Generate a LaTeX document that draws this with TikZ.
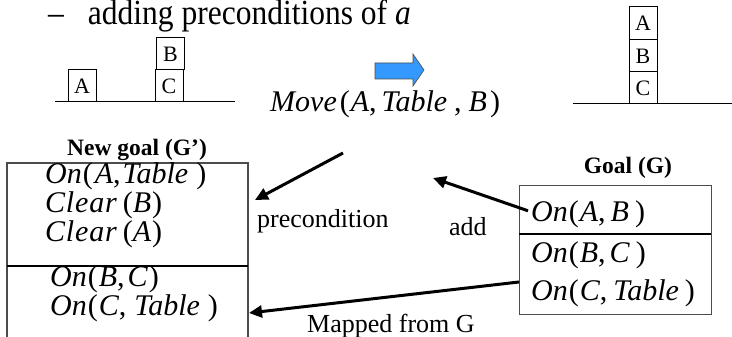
\documentclass[tikz,border=0pt]{standalone}
\usepackage{fontspec}
\setmainfont{Liberation Serif}
\usetikzlibrary{arrows.meta}
\definecolor{arrowblue}{RGB}{51,153,255}
\newcommand{\mi}[1]{\textit{#1}}
\newcommand{\wOn}{\mi{On}}
\newcommand{\wTable}{\mi{Table}}
\newcommand{\wClear}{\mi{C\kern0.8pt l\kern0.8pt e\kern0.8pt a\kern0.8pt r}}
\begin{document}
\begin{tikzpicture}[x=1pt,y=-1pt,
  blk/.style={draw, line width=1pt, minimum width=28pt, minimum height=32pt, inner sep=0pt, font=\fontsize{22}{24}\selectfont},
  frm/.style={anchor=base west, inner sep=0pt, font=\fontsize{30}{34}\selectfont},
  lbl/.style={anchor=base west, inner sep=0pt, font=\fontsize{26}{30}\selectfont},
  ttl/.style={anchor=base, inner sep=0pt, font=\bfseries\fontsize{23.5}{28}\selectfont},
  frame/.style={draw=black!70, line width=1.3pt},
  conn/.style={line width=3pt, -{Triangle[length=13pt,width=12pt]}},
]
\useasboundingbox (0,0) rectangle (732,337);

% heading
\node[anchor=base west, inner sep=0pt, font=\fontsize{31.5}{36}\selectfont] (head) at (48,25) {\scalebox{1}[1.12]{–\hspace{24pt}adding preconditions of \mi{a}}};

% initial state
\draw[line width=1pt] (55,102) -- (235,102);
\node[blk] (ba) at (82,86) {A};
\node[blk] (bc) at (169,86) {C};
\node[blk] (bb) at (170.5,54) {B};

% goal state
\draw[line width=1pt] (573,104) -- (732,104);
\node[blk, minimum height=33pt] (ga) at (643,23.5) {A};
\node[blk] (gb) at (643,56) {B};
\node[blk] (gc) at (643,88) {C};

% blue arrow
\draw[fill=arrowblue, draw=black!70, line width=0.6pt] (375,63) -- (413,63) -- (413,54) -- (424,70) -- (413,86) -- (413,79) -- (375,79) -- cycle;

% action
\node[frm] (move) at (270,112) {\mi{Move}\kern3pt(\kern1pt\mi{A},\kern5pt\wTable\kern7pt,\kern7pt\mi{B}\kern3pt)};

% new goal box
\node[ttl] (ngt) at (137,155) {New goal (G’)};
\draw[frame] (7,337) -- (7,163) -- (248,163) -- (248,337);
\draw[line width=1.3pt] (7,266) -- (248,266);
\node[frm] (n1) at (45,183) {\wOn\kern1pt(\kern2pt\mi{A},\kern2pt\wTable\kern8pt)};
\node[frm] (n2) at (45,212) {\wClear\kern6pt(\mi{B}\kern1pt)};
\node[frm] (n3) at (45,241) {\wClear\kern6pt(\mi{A}\kern1pt)};
\node[frm] (n4) at (50,286) {\wOn\kern1pt(\kern1pt\mi{B},\kern3pt\mi{C}\kern1pt)};
\node[frm] (n5) at (50,315) {\wOn\kern1pt(\kern1pt\mi{C},\kern8pt\wTable\kern8pt)};

% goal box
\node[ttl] (gt) at (628,173) {Goal (G)};
\node[frame, anchor=north west, minimum width=192pt, minimum height=129pt, inner sep=0pt] (gbox) at (519,185) {};
\draw[line width=1.3pt] (519,234) -- (711,234);
\node[frm] (g1) at (531,222) {\wOn\kern1pt(\kern1pt\mi{A},\kern5pt\mi{B}\kern6pt)};
\node[frm] (g2) at (531,262) {\wOn\kern1pt(\kern1pt\mi{B},\kern4pt\mi{C}\kern6pt)};
\node[frm] (g3) at (531,300) {\wOn\kern1pt(\kern1pt\mi{C},\kern6pt\wTable\kern6pt)};

% connectors
\coordinate (pstart) at (343,153);
\coordinate (pend) at (255,200);
\coordinate (aend) at (433,178);
\coordinate (mstart) at (519,282);
\coordinate (mend) at (249,313);
\draw[conn] (pstart) -- (pend);
\draw[conn] ([xshift=-3pt,yshift=4pt]g1.west) -- (aend);
\draw[conn] (mstart) -- (mend);

% labels
\node[lbl] (lp) at (257,227) {precondition};
\node[lbl] (la) at (449,235) {add};
\node[lbl] (lm) at (307,332) {Mapped from G};
\end{tikzpicture}
\end{document}
